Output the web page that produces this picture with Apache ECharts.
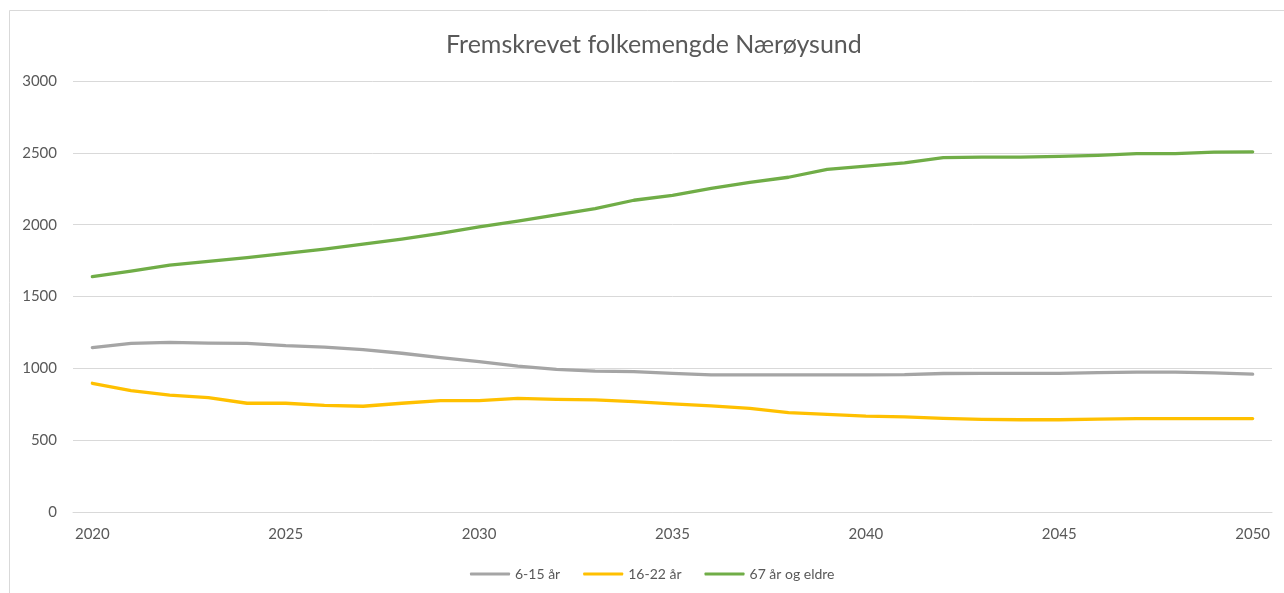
<!DOCTYPE html>
<html>
<head>
<meta charset="utf-8">
<script src="https://cdn.jsdelivr.net/npm/echarts@6/dist/echarts.min.js"></script>
<style>
html,body{margin:0;padding:0;background:#fff;}
#chart{width:1284px;height:593px;}
</style>
</head>
<body>
<div id="chart"></div>
<script>
const years = [2020,2021,2022,2023,2024,2025,2026,2027,2028,2029,2030,2031,2032,2033,2034,2035,2036,2037,2038,2039,2040,2041,2042,2043,2044,2045,2046,2047,2048,2049,2050];
const age6to15 = [1144,1174,1180,1175,1174,1158,1148,1130,1105,1074,1046,1016,993,981,977,965,954,954,954,954,954,956,964,965,965,965,970,974,974,968,960];
const age16to22 = [896,845,814,796,757,757,742,736,757,775,775,791,784,780,768,752,738,722,691,680,668,662,652,645,642,642,646,650,650,650,650];
const age67plus = [1638,1677,1719,1745,1770,1800,1830,1865,1900,1940,1985,2025,2068,2112,2170,2204,2252,2295,2330,2385,2408,2430,2466,2470,2470,2476,2483,2495,2495,2505,2507];
const seriesNames = ['6-15 år','16-22 år','67 år og eldre'];
const colors = ['#A5A5A5','#FFC000','#70AD47'];
const yTicks = {min:0, max:3000, interval:500};

const FONT = 'Lato, "Open Sans", sans-serif';
const chart = echarts.init(document.getElementById('chart'), null, {renderer:'canvas'});
const data = [age6to15, age16to22, age67plus];
chart.setOption({
  backgroundColor:'#fff',
  animation:false,
  graphic:[{type:'rect', shape:{x:9.5,y:10.5,width:1300,height:600}, style:{fill:'none', stroke:'#d9d9d9', lineWidth:1}, silent:true}],
  title:{text:'Fremskrevet folkemengde Nærøysund', left:441, top:27,
    textStyle:{fontFamily:FONT, fontSize:25, fontWeight:'normal', color:'#595959'}},
  legend:{top:562, left:465, itemWidth:40, itemHeight:3, itemGap:23, icon:'roundRect',
    textStyle:{fontFamily:FONT, fontSize:14, color:'#595959'},
    data:seriesNames},
  grid:{left:73, right:12, top:81, bottom:81, containLabel:false},
  xAxis:{type:'category', data:years, boundaryGap:true,
    axisLine:{show:true, lineStyle:{color:'#d9d9d9', width:1}},
    axisTick:{show:false},
    axisLabel:{interval:4, color:'#595959', fontFamily:FONT, fontSize:15, margin:15}},
  yAxis:{type:'value', min:yTicks.min, max:yTicks.max, interval:yTicks.interval,
    axisLine:{show:false}, axisTick:{show:false},
    splitLine:{lineStyle:{color:'#d9d9d9', width:1}},
    axisLabel:{color:'#595959', fontFamily:FONT, fontSize:15, margin:16, formatter:v=>String(v)}},
  series: seriesNames.map((n,i)=>({name:n, type:'line', data:data[i], symbol:'none', smooth:false,
    lineStyle:{color:colors[i], width:3.3, cap:'round', join:'round'}, itemStyle:{color:colors[i]}}))
});
</script>
</body>
</html>
